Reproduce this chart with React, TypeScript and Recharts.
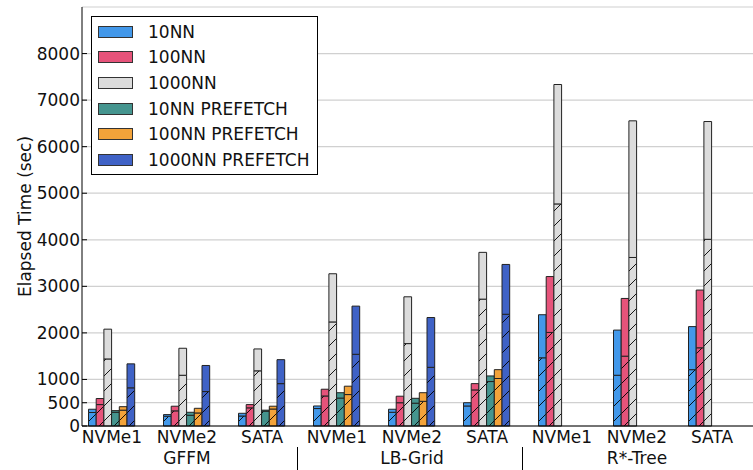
import React from 'react';
import { BarChart, Bar, XAxis, YAxis, CartesianGrid, Legend } from 'recharts';

const devices = ['NVMe1', 'NVMe2', 'SATA', 'NVMe1', 'NVMe2', 'SATA', 'NVMe1', 'NVMe2', 'SATA'];
const methods = ['GFFM', 'LB-Grid', 'R*-Tree'];
const seriesNames = ['10NN', '100NN', '1000NN', '10NN PREFETCH', '100NN PREFETCH', '1000NN PREFETCH'];
const seriesColors = ['#4298ea', '#e6537a', '#dcdcdc', '#45958f', '#f3a33a', '#3f62c6'];

// whole bar (sec)
const knn10Total = [360, 245, 273, 430, 360, 500, 2390, 2060, 2135];
const knn100Total = [590, 425, 460, 790, 640, 910, 3210, 2740, 2920];
const knn1000Total = [2080, 1670, 1655, 3270, 2775, 3730, 7335, 6555, 6540];
const pf10Total = [330, 295, 340, 715, 595, 1075, 0, 0, 0];
const pf100Total = [415, 380, 425, 855, 715, 1210, 0, 0, 0];
const pf1000Total = [1335, 1300, 1425, 2575, 2330, 3470, 0, 0, 0];

// hatched lower part (sec)
const knn10Lower = [290, 210, 215, 375, 295, 430, 1465, 1090, 1210];
const knn100Lower = [460, 325, 390, 645, 500, 775, 2010, 1500, 1680];
const knn1000Lower = [1440, 1090, 1185, 2235, 1770, 2725, 4770, 3620, 4010];
const pf10Lower = [295, 230, 318, 600, 490, 955, 0, 0, 0];
const pf100Lower = [340, 280, 365, 675, 530, 1020, 0, 0, 0];
const pf1000Lower = [820, 740, 910, 1540, 1260, 2400, 0, 0, 0];

const yTicks = [0, 500, 1000, 2000, 3000, 4000, 5000, 6000, 7000, 8000];

const totals = [knn10Total, knn100Total, knn1000Total, pf10Total, pf100Total, pf1000Total];
const lowers = [knn10Lower, knn100Lower, knn1000Lower, pf10Lower, pf100Lower, pf1000Lower];

const rows = devices.map((device, i) => {
	const row: Record<string, string | number> = { key: `${methods[Math.floor(i / 3)]}-${device}` };
	totals.forEach((t, s) => {
		row[`low${s}`] = lowers[s][i];
		row[`up${s}`] = t[i] - lowers[s][i];
	});
	return row;
});

const FONT = '"DejaVu Sans", sans-serif';

const DeviceTick = (props: any) => {
	const { x, y, payload } = props;
	const i = payload.index;
	const half = payload.offset || 37.5;
	return (
		<g>
			<text x={x} y={y + 17} textAnchor="middle" fontSize={17} fill="#111">
				{devices[i]}
			</text>
			{i % 3 === 1 && (
				<text x={x} y={y + 38} textAnchor="middle" fontSize={17} fill="#111">
					{methods[(i - 1) / 3]}
				</text>
			)}
			{i % 3 === 2 && i < devices.length - 1 && (
				<line x1={x + half - 2} x2={x + half - 2} y1={y + 21} y2={y + 44} stroke="#000" strokeWidth={1} />
			)}
		</g>
	);
};

const LegendBox = ({ payload }: any) => {
	const items = (payload || [])
		.filter((p: any) => seriesNames.includes(p.value))
		.sort((a: any, b: any) => seriesNames.indexOf(a.value) - seriesNames.indexOf(b.value));
	return (
		<div
			style={{
				width: 227,
				height: 159,
				boxSizing: 'border-box',
				border: '1px solid #000',
				background: '#fff',
				paddingTop: 2,
				fontFamily: FONT,
				fontSize: 17,
				color: '#111',
			}}
		>
			{items.map((p: any) => (
				<div key={p.value} style={{ height: 25.6, display: 'flex', alignItems: 'center' }}>
					<span
						style={{
							display: 'inline-block',
							marginLeft: 6,
							width: 35,
							height: 12,
							boxSizing: 'border-box',
							border: '1px solid #333',
							background: p.color,
						}}
					/>
					<span style={{ marginLeft: 15, whiteSpace: 'nowrap' }}>{p.value}</span>
				</div>
			))}
		</div>
	);
};

export default function App() {
	return (
		<div style={{ position: 'absolute', left: 0, top: 0, fontFamily: FONT }}>
			<BarChart
				width={753}
				height={470}
				data={rows}
				margin={{ top: 7, right: 0, bottom: 0, left: 0 }}
				barGap={0}
			>
				<defs>
					{seriesColors.map((c, s) => (
						<pattern key={s} id={`hatch${s}`} patternUnits="userSpaceOnUse" width={15} height={15}>
							<rect width={15} height={15} fill={c} />
							<path d="M0,15 L15,0 M-3,3 L3,-3 M12,18 L18,12" stroke="#000" strokeWidth={0.9} />
						</pattern>
					))}
				</defs>
				<CartesianGrid vertical={false} stroke="#d0d0d0" strokeWidth={1.2} />
				<XAxis
					dataKey="key"
					height={44}
					interval={0}
					padding={{ left: -7.5, right: 3.5 }}
					axisLine={{ stroke: '#000', strokeWidth: 1 }}
					tickLine={false}
					tickSize={0}
					tickMargin={0}
					tick={<DeviceTick />}
				/>
				<XAxis
					xAxisId="top"
					dataKey="key"
					orientation="top"
					height={0}
					mirror
					interval={0}
					padding={{ left: -7.5, right: 3.5 }}
					axisLine={{ stroke: '#000', strokeWidth: 1 }}
					tickLine={{ stroke: '#000' }}
					tickSize={5}
					tick={false}
				/>
				<YAxis
					width={82}
					domain={[0, 9000]}
					ticks={yTicks}
					interval={0}
					axisLine={{ stroke: '#000', strokeWidth: 1 }}
					tickLine={{ stroke: '#000' }}
					tickSize={-5}
					tickMargin={7}
					tick={{ fill: '#111', fontSize: 17 }}
					label={{
						value: 'Elapsed Time (sec)',
						angle: -90,
						position: 'insideLeft',
						offset: 24.5,
						fill: '#111',
						fontSize: 17,
						style: { textAnchor: 'middle' },
					}}
				/>
				<Legend
					layout="vertical"
					align="center"
					verticalAlign="middle"
					content={<LegendBox />}
					wrapperStyle={{ position: 'absolute', left: 91, top: 16, width: 227, height: 159 }}
				/>
				{seriesNames.flatMap((name, s) => [
					<Bar
						key={`low${s}`}
						dataKey={`low${s}`}
						stackId={`s${s}`}
						fill={`url(#hatch${s})`}
						stroke="#222"
						strokeWidth={1}
						barSize={7.7}
						legendType="none"
						isAnimationActive={false}
					/>,
					<Bar
						key={`up${s}`}
						dataKey={`up${s}`}
						name={name}
						stackId={`s${s}`}
						fill={seriesColors[s]}
						stroke="#222"
						strokeWidth={1}
						barSize={7.7}
						isAnimationActive={false}
					/>,
				])}
			</BarChart>
		</div>
	);
}
